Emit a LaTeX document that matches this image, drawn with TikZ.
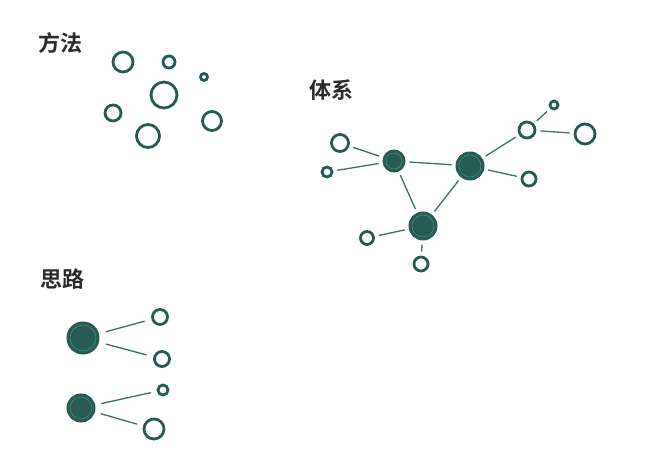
\documentclass[tikz,border=0pt]{standalone}
\usepackage{fontspec}
\newfontfamily\cjk{Noto Sans CJK SC}[BoldFont={Noto Sans CJK SC Bold}]
\definecolor{teal1}{HTML}{255B53}
\definecolor{tealline}{HTML}{337469}
\definecolor{tealring}{HTML}{448E80}
\definecolor{labelc}{HTML}{2B2B2B}
\begin{document}
\begin{tikzpicture}[x=1pt,y=-1pt,
  ring/.style={circle, draw=teal1, line width=2.8pt, fill=white, inner sep=0pt, minimum size=#1},
  hub/.style={circle, draw=teal1, fill=teal1, line width=1pt, inner sep=0pt, minimum size=#1,
    path picture={\draw[tealring, line width=0.6pt] (path picture bounding box.center) circle[radius=#1/2-3pt];}},
  link/.style={draw=tealline, line width=1.3pt, shorten <=#1, shorten >=#1},
  link/.default=4pt,
  title/.style={text=labelc, font=\cjk\bfseries\fontsize{22}{26}\selectfont, inner sep=0pt}]
\useasboundingbox (0,0) rectangle (657,462);

% 方法
\node[title] (t1) at (60,43) {方法};
\node[ring=20pt] (m1) at (123,62) {};
\node[ring=12pt] (m2) at (169,62) {};
\node[ring=7pt] (m3) at (204,77) {};
\node[ring=26pt] (m4) at (164,95) {};
\node[ring=16pt] (m5) at (113,113) {};
\node[ring=23pt] (m6) at (148,136) {};
\node[ring=19pt] (m7) at (212,121) {};

% 体系
\node[title] (t2) at (331,90) {体系};
\node[hub=22pt] (A) at (394,161) {};
\node[hub=28pt] (B) at (470,166) {};
\node[hub=28pt] (C) at (423,226) {};
\node[ring=17pt] (a1) at (340,143) {};
\node[ring=10pt] (a2) at (327,172) {};
\node[ring=16pt] (b1) at (527,130) {};
\node[ring=8pt] (b2) at (554,105) {};
\node[ring=20pt] (b3) at (585,134) {};
\node[ring=14pt] (b4) at (529,179) {};
\node[ring=13pt] (c1) at (367,238) {};
\node[ring=14pt] (c2) at (421,264) {};

\draw[link] (a1) -- (A);
\draw[link] (a2) -- (A);
\draw[link] (A) -- (B);
\draw[link] (A) -- (C);
\draw[link] (B) -- (C);
\draw[link] (B) -- (b1);
\draw[link] (b1) -- (b2);
\draw[link] (b1) -- (b3);
\draw[link] (B) -- (b4);
\draw[link] (C) -- (c1);
\draw[link] (C) -- (c2);

% 思路
\node[title] (t3) at (62,279) {思路};
\node[hub=32pt] (D) at (83,338) {};
\node[ring=15pt] (d1) at (160,317) {};
\node[ring=15pt] (d2) at (162,359) {};
\node[hub=28pt] (E) at (81,408) {};
\node[ring=10pt] (e1) at (163,390) {};
\node[ring=20pt] (e2) at (154,429) {};

\draw[link=7pt] (D) -- (d1);
\draw[link=7pt] (D) -- (d2);
\draw[link=6pt] (E) -- (e1);
\draw[link=6pt] (E) -- (e2);
\end{tikzpicture}
\end{document}
